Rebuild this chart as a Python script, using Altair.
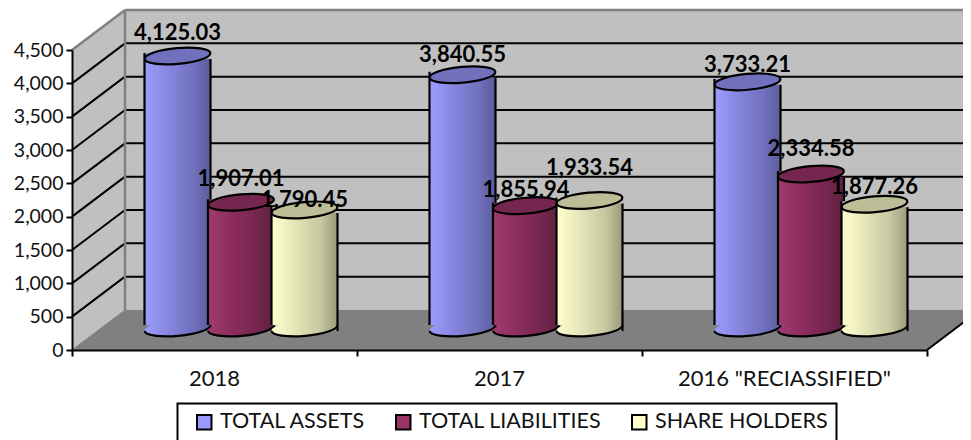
import altair as alt
import pandas as pd

categories = ["2018", "2017", '2016 "RECIASSIFIED"']
series_names = ["TOTAL ASSETS", "TOTAL LIABILITIES", "SHARE HOLDERS"]
total_assets = [4125.03, 3840.55, 3733.21]
total_liabilities = [1907.01, 1855.94, 2334.58]
share_holders = [1790.45, 1933.54, 1877.26]
y_ticks = [0, 500, 1000, 1500, 2000, 2500, 3000, 3500, 4000, 4500]
series_values = [total_assets, total_liabilities, share_holders]

# styling ------------------------------------------------------------------
FONT = "Lato"
PX_X = 285.0            # pixels per category
PX_Y = 1 / 15.0         # pixels per value unit
DEPTH_X = 53 / PX_X
DEPTH_Y = 600.0
RIGHT_END = 3.16
BASE = 330.0            # height of the cylinder base on the floor
SHRINK = 0.989
STEP = 63.5 / PX_X
RX = 33.0
TILT = 3.0 / PX_Y
OUTLINE = 2.2
body_colors = [
    [("#9C9CFF", 0), ("#8484DC", 0.4), ("#7070BC", 0.75), ("#5C5C9C", 1)],
    [("#A03A70", 0), ("#8A2C5C", 0.4), ("#74264E", 0.75), ("#5E2040", 1)],
    [("#FFFFCF", 0), ("#E2E2B6", 0.4), ("#C6C6A0", 0.75), ("#9A9A7C", 1)],
]
cap_colors = ["#7070BC", "#74264E", "#BDBD98"]
legend_colors = ["#9999FF", "#993366", "#FFFFCC"]
label_lift = [[16, 16, 3], [13, 9, 26], [10, 18, 10.5]]   # per category, per series
ELLIPSE = ("M-1,0C-1,-0.133 -0.552,-0.24 0,-0.24C0.552,-0.24 1,-0.133 1,0"
           "C1,0.133 0.552,0.24 0,0.24C-0.552,0.24 -1,0.133 -1,0Z")
LOWER_ARC = "M-1,0C-1,0.133 -0.552,0.24 0,0.24C0.552,0.24 1,0.133 1,0"

rows = []
for s, name in enumerate(series_names):
    for c, cat in enumerate(categories):
        v = series_values[s][c]
        rows.append(dict(series=name, s=s, cat=cat, c=c, value=v,
                         xc=c + 0.5 + DEPTH_X / 2 + (s - 1) * STEP,
                         top=BASE + v * SHRINK, base=BASE))
df = pd.DataFrame(rows)

X_SCALE = alt.Scale(domain=[0, 3], nice=False, zero=False)
Y_SCALE = alt.Scale(domain=[0, 4500], nice=False, zero=False)
X_AXIS = alt.Axis(values=[0, 1, 2, 3], labels=False, tickSize=6, tickWidth=2,
                  tickColor="black", domainColor="black", domainWidth=2,
                  grid=False, zindex=1, title=None)
Y_AXIS = alt.Axis(values=y_ticks, labelExpr="format(datum.value, ',')", tickSize=6, tickWidth=2,
                  tickColor="black", domainColor="black", domainWidth=2,
                  grid=False, zindex=1, labelFont=FONT, labelFontSize=19.5,
                  labelColor="#111111", labelPadding=3, title=None)


def X(f="x"):
    return alt.X(f"{f}:Q", scale=X_SCALE, axis=X_AXIS)


def Y(f="y"):
    return alt.Y(f"{f}:Q", scale=Y_SCALE, axis=Y_AXIS)


# legend carrier, covered by everything else
carrier = alt.Chart(df).mark_point(filled=True, shape="square", opacity=1,
                                   stroke="black", strokeWidth=2, size=10).encode(
    x=X("xc"),
    y=Y("base"),
    color=alt.Color("series:N",
                    scale=alt.Scale(domain=series_names, range=legend_colors),
                    legend=alt.Legend(orient="none", legendX=105.5, legendY=353.5,
                                      direction="horizontal", title=None,
                                      symbolType="square", symbolSize=210,
                                      symbolStrokeColor="black", symbolStrokeWidth=2,
                                      symbolOpacity=1, symbolOffset=8,
                                      labelFont=FONT, labelFontSize=21.5, labelColor="#111111",
                                      strokeColor="black", fillColor="white",
                                      padding=8, columnPadding=19, labelOffset=5,
                                      labelLimit=300, columns=3)),
)

# walls and floor ----------------------------------------------------------
back_wall = alt.Chart(pd.DataFrame([dict(x=DEPTH_X, x2=RIGHT_END, y=DEPTH_Y, y2=4500 + DEPTH_Y)])).mark_rect(
    color="#C0C0C0").encode(x=X(), x2="x2:Q", y=Y(), y2="y2:Q")
side_wall = alt.Chart(pd.DataFrame([dict(x=0, y=0, y2=4500), dict(x=DEPTH_X, y=DEPTH_Y, y2=4500 + DEPTH_Y)])).mark_area(
    color="#C0C0C0").encode(x=X(), y=Y(), y2="y2:Q")
floor = alt.Chart(pd.DataFrame([
    dict(x=0, y=0, y2=0), dict(x=DEPTH_X, y=DEPTH_Y, y2=0),
    dict(x=3, y=DEPTH_Y, y2=0), dict(x=3 + DEPTH_X, y=DEPTH_Y, y2=DEPTH_Y)])).mark_area(
    color="#808080").encode(x=X(), y=Y(), y2="y2:Q")

grid_vals = y_ticks[1:-1]
back_grid = alt.Chart(pd.DataFrame([dict(x=DEPTH_X, x2=RIGHT_END, y=v + DEPTH_Y, y2=v + DEPTH_Y) for v in grid_vals])).mark_rule(
    color="black", strokeWidth=2).encode(x=X(), x2="x2:Q", y=Y(), y2="y2:Q")
side_grid = alt.Chart(pd.DataFrame([dict(x=0, x2=DEPTH_X, y=v, y2=v + DEPTH_Y) for v in grid_vals])).mark_rule(
    color="black", strokeWidth=2).encode(x=X(), x2="x2:Q", y=Y(), y2="y2:Q")
edges = alt.Chart(pd.DataFrame([
    dict(x=DEPTH_X, x2=RIGHT_END, y=4500 + DEPTH_Y, y2=4500 + DEPTH_Y),
    dict(x=DEPTH_X, x2=DEPTH_X, y=DEPTH_Y, y2=4500 + DEPTH_Y),
    dict(x=0, x2=DEPTH_X, y=4500, y2=4500 + DEPTH_Y)])).mark_rule(
    color="#808080", strokeWidth=2.5).encode(x=X(), x2="x2:Q", y=Y(), y2="y2:Q")
floor_left = alt.Chart(pd.DataFrame([dict(x=0, x2=DEPTH_X, y=0, y2=DEPTH_Y)])).mark_rule(
    color="#808080", strokeWidth=1).encode(x=X(), x2="x2:Q", y=Y(), y2="y2:Q")
floor_right = alt.Chart(pd.DataFrame([dict(x=3, x2=3 + DEPTH_X, y=0, y2=DEPTH_Y)])).mark_rule(
    color="black", strokeWidth=2).encode(x=X(), x2="x2:Q", y=Y(), y2="y2:Q")

# cylinders ----------------------------------------------------------------
cylinders = []
half = RX / PX_X
for s in range(3):
    d = df[df.s == s]
    sides = []
    for r in d.itertuples():
        for side in (-1, 1):
            sides.append(dict(c=r.c, x=r.xc + side * half,
                              y=r.top - side * TILT, y2=r.base - side * TILT))
    sd = pd.DataFrame(sides)
    grad = alt.Gradient(gradient="linear", x1=0, x2=1, y1=0, y2=0,
                        stops=[alt.GradientStop(color=col, offset=o) for col, o in body_colors[s]])
    bottom = alt.Chart(d).mark_point(filled=True, shape=ELLIPSE, size=(2 * RX) ** 2, angle=355,
                                     color=grad, strokeWidth=0, opacity=1).encode(
        x=X("xc"), y=Y("base"))
    body = alt.Chart(sd).mark_area(color=grad).encode(
        x=X(), y=Y(), y2="y2:Q", detail="c:N")
    arc = alt.Chart(d).mark_point(filled=False, shape=LOWER_ARC, size=(2 * RX) ** 2, angle=355,
                                  color="black", strokeWidth=OUTLINE, opacity=1).encode(
        x=X("xc"), y=Y("base"))
    side_lines = alt.Chart(sd).mark_rule(color="black", strokeWidth=OUTLINE).encode(
        x=X(), y=Y(), y2="y2:Q")
    top = alt.Chart(d).mark_point(filled=True, shape=ELLIPSE, size=(2 * RX) ** 2, angle=355,
                                  color=cap_colors[s], stroke="black", strokeWidth=OUTLINE, opacity=1).encode(
        x=X("xc"), y=Y("top"))
    cylinders += [bottom, body, arc, side_lines, top]

# text ---------------------------------------------------------------------
cat_df = pd.DataFrame(dict(cat=categories, x=[0.5, 1.5, 2.5], y=[0] * 3))
cat_labels = alt.Chart(cat_df).mark_text(font=FONT, fontSize=22, color="#111111", dy=36,
                                         baseline="alphabetic").encode(
    x=X(), y=Y(), text="cat:N")

value_labels = []
for r in df.itertuples():
    value_labels.append(
        alt.Chart(df[(df.s == r.s) & (df.c == r.c)]).mark_text(
            font=FONT, fontSize=22, fontWeight="bold", color="black",
            baseline="alphabetic", dy=-label_lift[r.c][r.s]).encode(
            x=X("xc"), y=Y("top"), text=alt.Text("value:Q", format=",.2f")))

chart = alt.layer(
    carrier, back_wall, side_wall, floor, back_grid, side_grid, edges,
    floor_left, floor_right, *cylinders, cat_labels, *value_labels).properties(
    width=855, height=300,
    padding={"left": 64, "top": 42, "right": 36, "bottom": 90},
    autosize=alt.AutoSizeParams(type="none"),
    background="white",
).configure_view(stroke=None).configure_legend(strokeWidth=2)

chart.save("out.html", embed_options={"renderer": "svg", "actions": False})
